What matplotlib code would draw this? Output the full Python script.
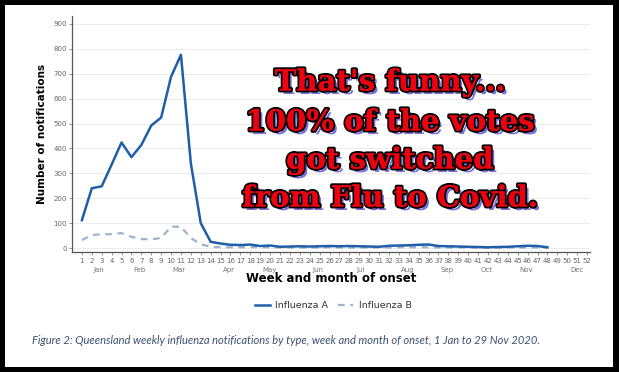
import matplotlib
matplotlib.use("Agg")
import matplotlib.pyplot as plt
import matplotlib.patheffects as pe
from matplotlib.patches import Rectangle
import matplotlib.transforms as mtransforms

weeks = list(range(1, 49))
influenza_a = [112, 240, 248, 335, 424, 365, 414, 492, 524, 688, 776, 340, 100, 25, 18, 13,
               12, 14, 8, 10, 5, 6, 7, 6, 7, 8, 7, 8, 7, 6, 5, 9,
               10, 11, 13, 14, 8, 7, 6, 5, 4, 3, 4, 5, 7, 9, 8, 3]
influenza_b = [32, 52, 55, 56, 60, 45, 36, 35, 40, 86, 85, 40, 15, 5, 3, 3,
               3, 4, 3, 3, 2, 2, 2, 2, 2, 3, 2, 2, 2, 2, 2, 2,
               3, 3, 3, 3, 2, 2, 2, 2, 1, 1, 1, 2, 2, 2, 2, 1]
week_ticks = list(range(1, 53))
month_labels = ["Jan", "Feb", "Mar", "Apr", "May", "Jun", "Jul", "Aug", "Sep", "Oct", "Nov", "Dec"]
month_pos = [2.7, 6.8, 10.8, 15.8, 19.9, 24.8, 29.1, 33.9, 37.9, 41.9, 45.9, 51.0]
y_ticks = [0, 100, 200, 300, 400, 500, 600, 700, 800, 900]
overlay_lines = ["That's funny...", "100% of the votes", "got switched", "from Flu to Covid."]
caption = "Figure 2: Queensland weekly influenza notifications by type, week and month of onset, 1 Jan to 29 Nov 2020."

W, H = 619, 372
fig = plt.figure(figsize=(W / 100, H / 100), dpi=100, facecolor="black")
fig.patches.append(Rectangle((5 / W, 5 / H), (613 - 5) / W, (367 - 5) / H,
                             transform=fig.transFigure, facecolor="white",
                             edgecolor="none", zorder=-10))

ax = fig.add_axes([72 / W, 1 - 252 / H, (590 - 72) / W, (252 - 16) / H])
ax.set_zorder(1)
ax.set_facecolor("none")
ax.plot(weeks, influenza_b, color="#9fb3cb", lw=1.6, ls=(0, (3, 2.5)), zorder=3,
        label="Influenza B")
ax.plot(weeks, influenza_a, color="#1f5ea8", lw=1.8, zorder=4, label="Influenza A")

ax.set_xlim(0, 52.3)
ax.set_ylim(-16, 932)
ax.set_yticks(y_ticks)
ax.set_xticks(week_ticks)
ax.tick_params(axis="both", labelsize=5, colors="#888888", length=2, width=0.6, pad=1.5)
ax.tick_params(axis="x", pad=2)
for lab in ax.get_xticklabels() + ax.get_yticklabels():
    lab.set_color("#666666")
ax.grid(axis="y", color="#ececec", lw=0.7, zorder=0)
ax.set_axisbelow(True)
for s in ["top", "right"]:
    ax.spines[s].set_visible(False)
for s in ["left", "bottom"]:
    ax.spines[s].set_color("#555555")
    ax.spines[s].set_linewidth(0.9)

trans = mtransforms.blended_transform_factory(ax.transData, ax.transAxes)
for m, p in zip(month_labels, month_pos):
    ax.text(p, -0.063, m, transform=trans, ha="center", va="top", fontsize=5, color="#777777")

ax.set_ylabel("Number of notifications", fontsize=7.5, fontweight="bold", labelpad=5)
fig.text(331 / W, 1 - 278 / H, "Week and month of onset", ha="center", va="center",
         fontsize=8.5, fontweight="bold")

handles, labels = ax.get_legend_handles_labels()
fig.legend(handles[::-1], labels[::-1], loc="center", bbox_to_anchor=(333 / W, 1 - 306 / H),
           ncol=2, frameon=False, fontsize=6.8, handlelength=1.6, columnspacing=1.0,
           handletextpad=0.6, labelcolor="#333333")

fig.text(32 / W, 1 - 340 / H, caption, ha="left", va="center", fontsize=8,
         style="italic", family="Lato", color="#3d4f73")

effects = [pe.SimplePatchShadow(offset=(2.5, -2.5), shadow_rgbFace="#6a5fd8", alpha=0.9),
           pe.withStroke(linewidth=2.8, foreground="black"), pe.Normal()]
ys = [82, 122, 160, 198]
for t, yy in zip(overlay_lines, ys):
    fig.text(390 / W, 1 - yy / H, t, ha="center", va="center", fontsize=21,
             fontweight="bold", family="DejaVu Serif", color="#ee0010",
             path_effects=effects, zorder=5)

fig.savefig("out.png", dpi=100, facecolor="black")
